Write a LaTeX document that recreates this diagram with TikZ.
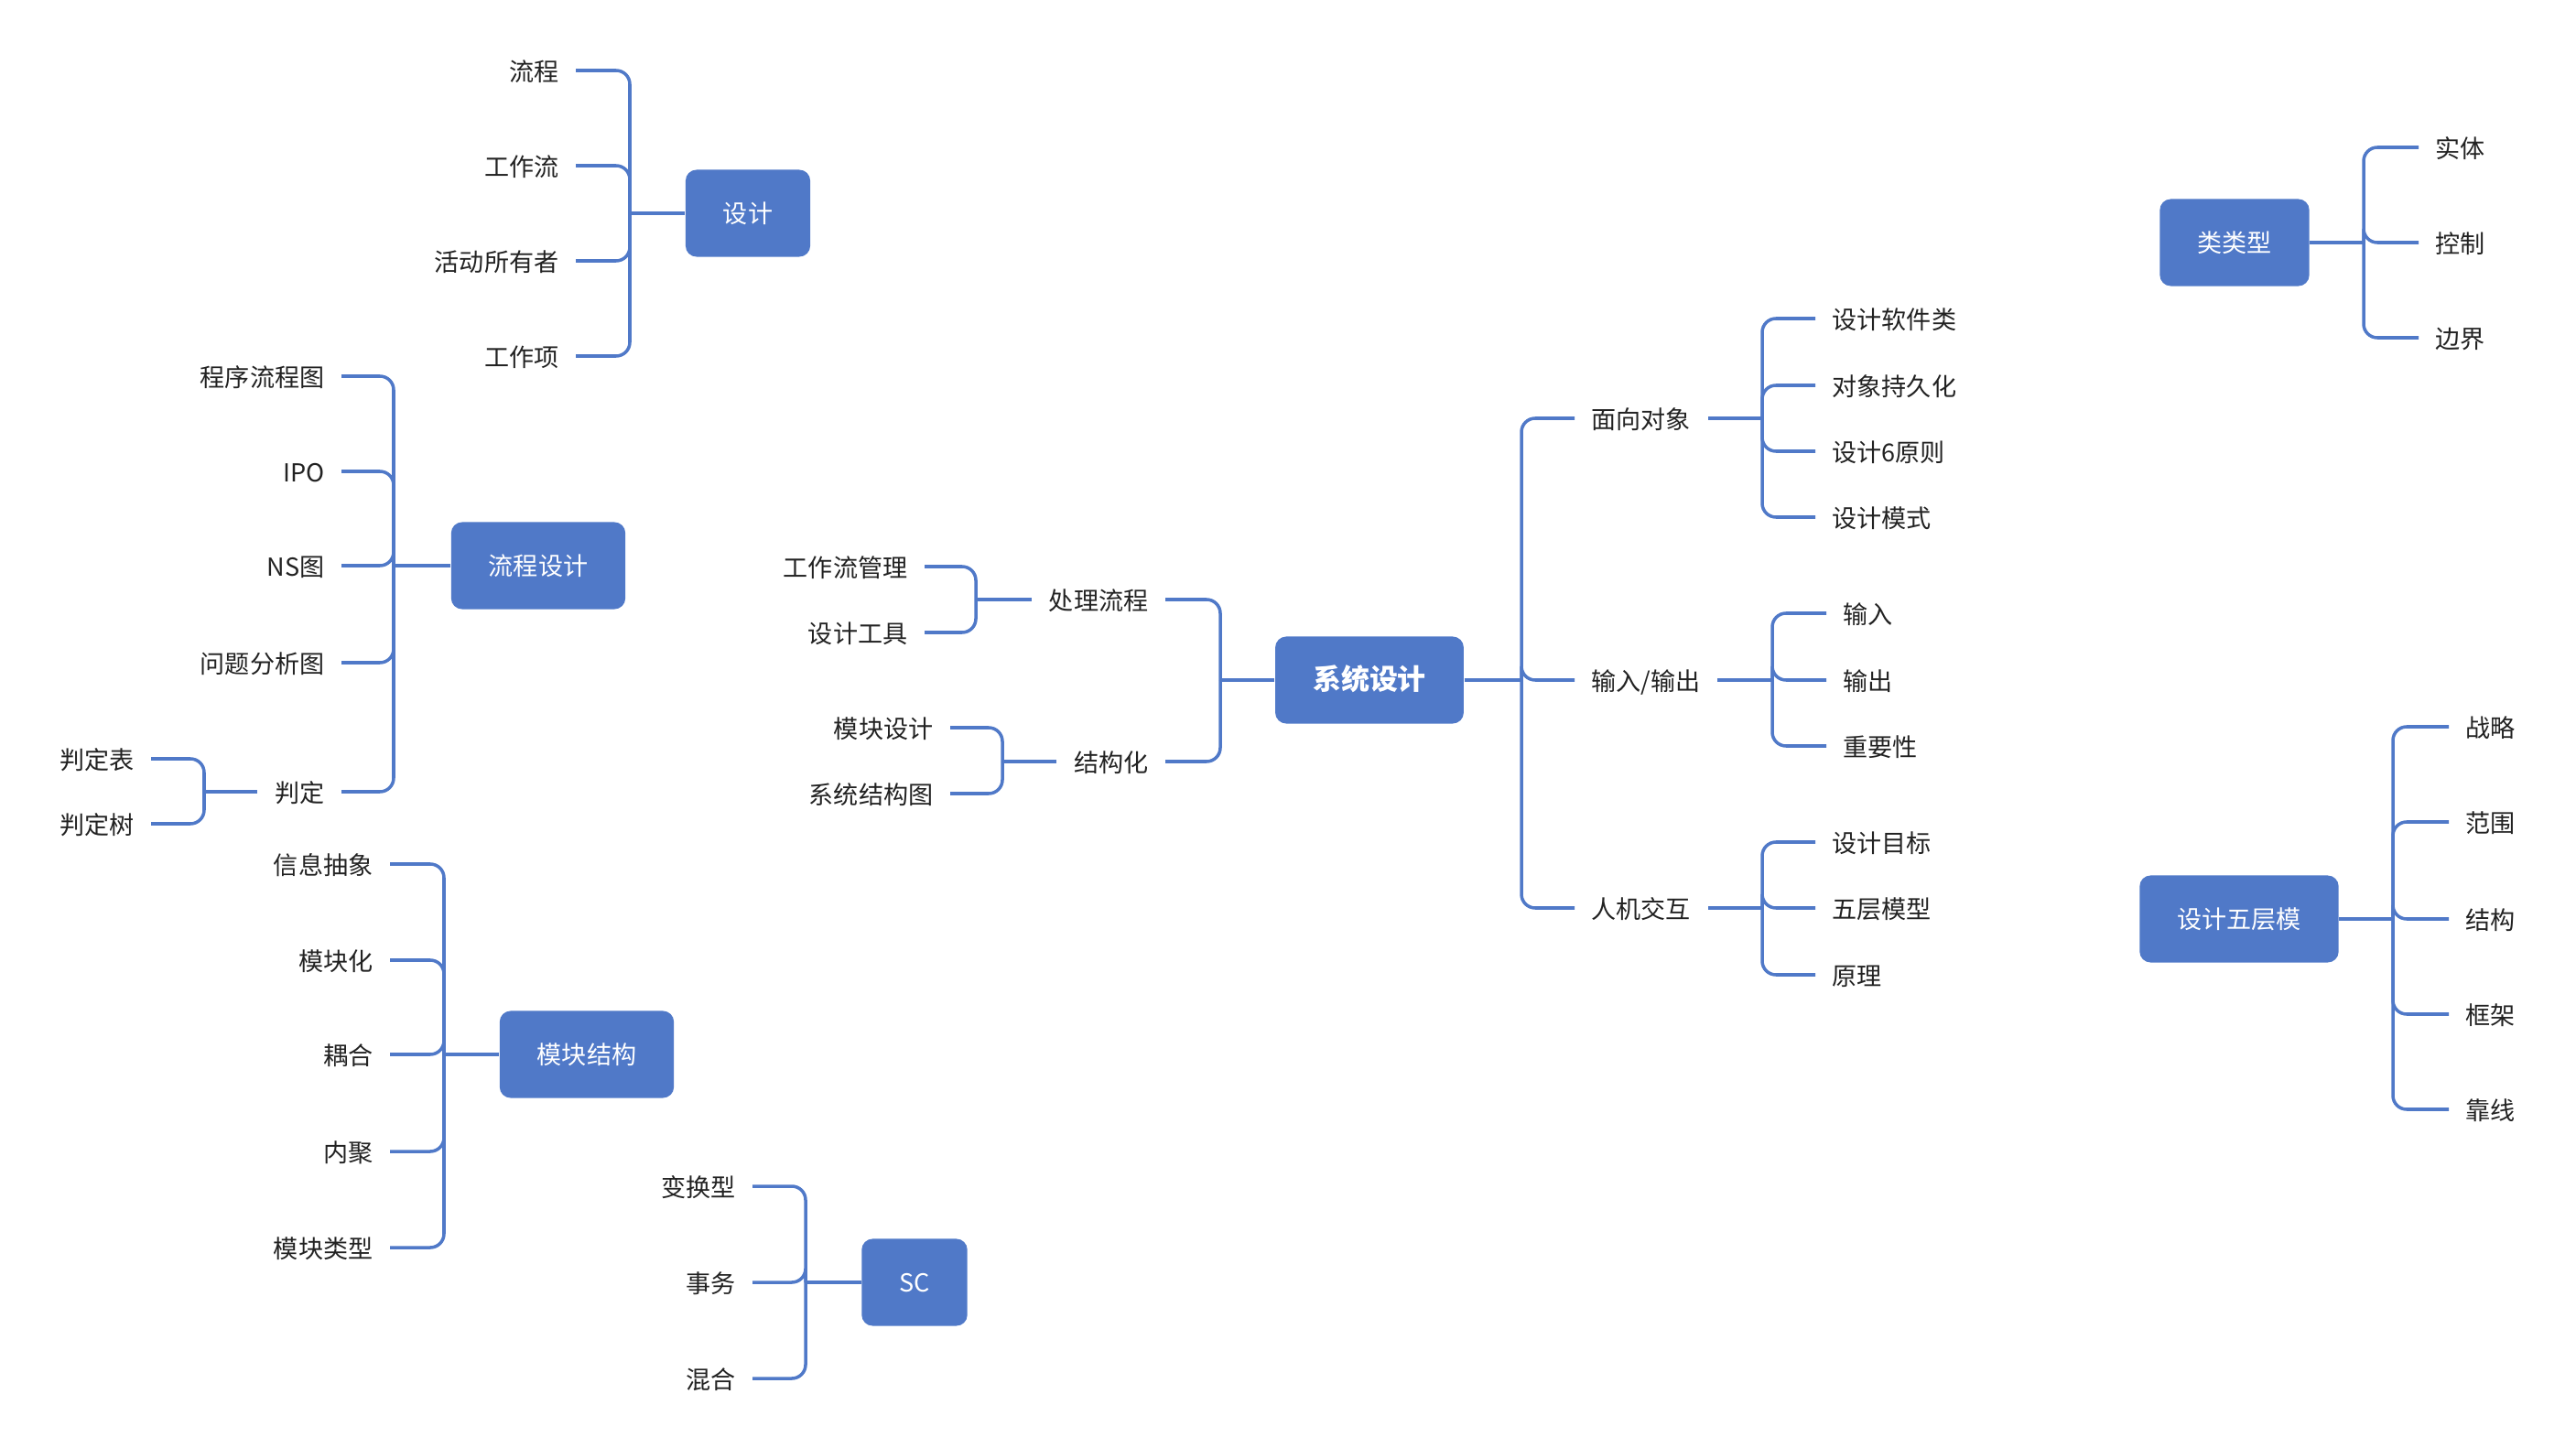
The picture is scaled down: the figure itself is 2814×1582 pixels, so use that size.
\documentclass[tikz,border=0pt]{standalone}
\usepackage{fontspec}
\setmainfont{Noto Sans CJK SC}
\usetikzlibrary{arrows}
\definecolor{mapblue}{RGB}{80,121,200}
\definecolor{leaftext}{RGB}{34,34,34}
\tikzset{topic/.style={rectangle, rounded corners=0.12cm, fill=mapblue, text=white, inner xsep=0.41cm, minimum height=0.95cm, text height=0.78em, text depth=0.2em, font=\fontsize{7.7}{9}\selectfont}}
\tikzset{leaf/.style={inner xsep=0.18cm, inner ysep=0.04cm, text height=0.8em, text depth=0.15em, text=leaftext, font=\fontsize{7.7}{9}\selectfont}}
\tikzset{branch/.style={draw=mapblue, line width=1pt, rounded corners=0.15cm}}

\begin{document}
\begin{tikzpicture}[x=0.01cm, y=-0.01cm]
				\useasboundingbox (0,0) rectangle (2814,1582);
				\node[topic] (sj) at (817,233) {设计};
				\node[leaf, anchor=east] (sj1) at (629,77) {流程};
				\node[leaf, anchor=east] (sj2) at (629,181) {工作流};
				\node[leaf, anchor=east] (sj3) at (629,285) {活动所有者};
				\node[leaf, anchor=east] (sj4) at (629,389) {工作项};
				\coordinate (sjb) at (688,233);
				\draw[branch] (sj1.east) -| (sjb);
				\draw[branch] (sj2.east) -| (sjb);
				\draw[branch] (sj3.east) -| (sjb);
				\draw[branch] (sj4.east) -| (sjb);
				\draw[branch] (sjb) -- (sj.west);

				\node[topic] (lcsj) at (588,618) {流程设计};
				\node[leaf, anchor=east] (lc1) at (373,411) {程序流程图};
				\node[leaf, anchor=east] (lc2) at (373,515) {IPO};
				\node[leaf, anchor=east] (lc3) at (373,618) {NS图};
				\node[leaf, anchor=east] (lc4) at (373,724) {问题分析图};
				\node[leaf, anchor=east] (pd) at (373,865) {判定};
				\coordinate (lcsjb) at (430,618);
				\draw[branch] (lc1.east) -| (lcsjb);
				\draw[branch] (lc2.east) -| (lcsjb);
				\draw[branch] (lc3.east) -| (lcsjb);
				\draw[branch] (lc4.east) -| (lcsjb);
				\draw[branch] (pd.east) -| (lcsjb);
				\draw[branch] (lcsjb) -- (lcsj.west);

				\node[leaf, anchor=east] (pd1) at (165,829) {判定表};
				\node[leaf, anchor=east] (pd2) at (165,900) {判定树};
				\coordinate (pdb) at (223,865);
				\draw[branch] (pd1.east) -| (pdb);
				\draw[branch] (pd2.east) -| (pdb);
				\draw[branch] (pdb) -- (pd.west);

				\node[topic] (mkjg) at (641,1152) {模块结构};
				\node[leaf, anchor=east] (mk1) at (426,944) {信息抽象};
				\node[leaf, anchor=east] (mk2) at (426,1049) {模块化};
				\node[leaf, anchor=east] (mk3) at (426,1152) {耦合};
				\node[leaf, anchor=east] (mk4) at (426,1258) {内聚};
				\node[leaf, anchor=east] (mk5) at (426,1363) {模块类型};
				\coordinate (mkjgb) at (485,1152);
				\draw[branch] (mk1.east) -| (mkjgb);
				\draw[branch] (mk2.east) -| (mkjgb);
				\draw[branch] (mk3.east) -| (mkjgb);
				\draw[branch] (mk4.east) -| (mkjgb);
				\draw[branch] (mk5.east) -| (mkjgb);
				\draw[branch] (mkjgb) -- (mkjg.west);

				\node[topic] (sc) at (999,1401) {SC};
				\node[leaf, anchor=east] (sc1) at (822,1296) {变换型};
				\node[leaf, anchor=east] (sc2) at (822,1401) {事务};
				\node[leaf, anchor=east] (sc3) at (822,1506) {混合};
				\coordinate (scb) at (880,1401);
				\draw[branch] (sc1.east) -| (scb);
				\draw[branch] (sc2.east) -| (scb);
				\draw[branch] (sc3.east) -| (scb);
				\draw[branch] (scb) -- (sc.west);

				\node[topic, font=\fontsize{8.8}{10}\selectfont\bfseries] (xtsj) at (1496,743) {系统设计};
				\node[leaf, anchor=east] (cllc) at (1273,655) {处理流程};
				\node[leaf, anchor=east] (jgh) at (1273,832) {结构化};
				\coordinate (xtsjl) at (1333,743);
				\draw[branch] (cllc.east) -| (xtsjl);
				\draw[branch] (jgh.east) -| (xtsjl);
				\draw[branch] (xtsjl) -- (xtsj.west);

				\node[leaf, anchor=east] (cl1) at (1010,619) {工作流管理};
				\node[leaf, anchor=east] (cl2) at (1010,691) {设计工具};
				\coordinate (cllcb) at (1066,655);
				\draw[branch] (cl1.east) -| (cllcb);
				\draw[branch] (cl2.east) -| (cllcb);
				\draw[branch] (cllcb) -- (cllc.west);

				\node[leaf, anchor=east] (jg1) at (1038,795) {模块设计};
				\node[leaf, anchor=east] (jg2) at (1038,867) {系统结构图};
				\coordinate (jghb) at (1095,832);
				\draw[branch] (jg1.east) -| (jghb);
				\draw[branch] (jg2.east) -| (jghb);
				\draw[branch] (jghb) -- (jgh.west);

				\node[leaf, anchor=west] (mxdx) at (1720,457) {面向对象};
				\node[leaf, anchor=west] (srsc) at (1720,743) {输入/输出};
				\node[leaf, anchor=west] (rjjh) at (1720,992) {人机交互};
				\coordinate (xtsjr) at (1662,743);
				\draw[branch] (xtsj.east) -- (xtsjr);
				\draw[branch] (mxdx.west) -| (xtsjr);
				\draw[branch] (srsc.west) -| (xtsjr);
				\draw[branch] (rjjh.west) -| (xtsjr);

				\node[leaf, anchor=west] (mx1) at (1983,348) {设计软件类};
				\node[leaf, anchor=west] (mx2) at (1983,421) {对象持久化};
				\node[leaf, anchor=west] (mx3) at (1983,493) {设计6原则};
				\node[leaf, anchor=west] (mx4) at (1983,565) {设计模式};
				\coordinate (mxdxb) at (1925,457);
				\draw[branch] (mx1.west) -| (mxdxb);
				\draw[branch] (mx2.west) -| (mxdxb);
				\draw[branch] (mx3.west) -| (mxdxb);
				\draw[branch] (mx4.west) -| (mxdxb);
				\draw[branch] (mxdxb) -- (mxdx.east);

				\node[leaf, anchor=west] (sr1) at (1995,670) {输入};
				\node[leaf, anchor=west] (sr2) at (1995,743) {输出};
				\node[leaf, anchor=west] (sr3) at (1995,815) {重要性};
				\coordinate (srscb) at (1936,743);
				\draw[branch] (sr1.west) -| (srscb);
				\draw[branch] (sr2.west) -| (srscb);
				\draw[branch] (sr3.west) -| (srscb);
				\draw[branch] (srscb) -- (srsc.east);

				\node[leaf, anchor=west] (rj1) at (1983,920) {设计目标};
				\node[leaf, anchor=west] (rj2) at (1983,992) {五层模型};
				\node[leaf, anchor=west] (rj3) at (1983,1065) {原理};
				\coordinate (rjjhb) at (1925,992);
				\draw[branch] (rj1.west) -| (rjjhb);
				\draw[branch] (rj2.west) -| (rjjhb);
				\draw[branch] (rj3.west) -| (rjjhb);
				\draw[branch] (rjjhb) -- (rjjh.east);

				\node[topic] (llx) at (2441,265) {类类型};
				\node[leaf, anchor=west] (ll1) at (2642,161) {实体};
				\node[leaf, anchor=west] (ll2) at (2642,265) {控制};
				\node[leaf, anchor=west] (ll3) at (2642,369) {边界};
				\coordinate (llxb) at (2582,265);
				\draw[branch] (ll1.west) -| (llxb);
				\draw[branch] (ll2.west) -| (llxb);
				\draw[branch] (ll3.west) -| (llxb);
				\draw[branch] (llxb) -- (llx.east);

				\node[topic] (wcm) at (2446,1004) {设计五层模};
				\node[leaf, anchor=west] (wc1) at (2675,794) {战略};
				\node[leaf, anchor=west] (wc2) at (2675,898) {范围};
				\node[leaf, anchor=west] (wc3) at (2675,1004) {结构};
				\node[leaf, anchor=west] (wc4) at (2675,1108) {框架};
				\node[leaf, anchor=west] (wc5) at (2675,1212) {靠线};
				\coordinate (wcmb) at (2614,1004);
				\draw[branch] (wc1.west) -| (wcmb);
				\draw[branch] (wc2.west) -| (wcmb);
				\draw[branch] (wc3.west) -| (wcmb);
				\draw[branch] (wc4.west) -| (wcmb);
				\draw[branch] (wc5.west) -| (wcmb);
				\draw[branch] (wcmb) -- (wcm.east);
\end{tikzpicture}
\end{document}
